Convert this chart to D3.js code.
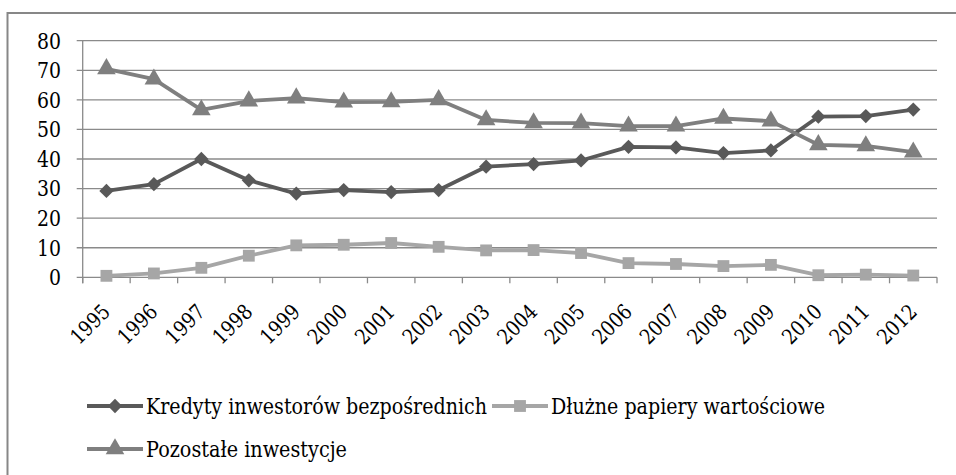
<!DOCTYPE html>
<html>
<head>
<meta charset="utf-8">
<script src="https://cdn.jsdelivr.net/npm/d3@7"></script>
<style>
  html, body { margin: 0; padding: 0; background: #fff; }
</style>
</head>
<body>
<div class="js-container"></div>
<script>
;(function() {
  'use strict';

  var years = ['1995', '1996', '1997', '1998', '1999', '2000', '2001', '2002', '2003',
               '2004', '2005', '2006', '2007', '2008', '2009', '2010', '2011', '2012'];

  var kredyty = [29.2, 31.5, 40.0, 32.8, 28.3, 29.5, 28.8, 29.5, 37.4,
                 38.3, 39.5, 44.1, 43.9, 42.0, 42.9, 54.3, 54.5, 56.7];

  var dluzne = [0.5, 1.3, 3.2, 7.3, 10.8, 11.0, 11.6, 10.3, 9.1,
                9.2, 8.2, 4.8, 4.5, 3.8, 4.2, 0.7, 0.9, 0.6];

  var pozostale = [70.5, 67.0, 56.6, 59.6, 60.6, 59.2, 59.3, 60.0, 53.2,
                   52.2, 52.1, 51.1, 51.1, 53.7, 52.8, 44.8, 44.4, 42.3];

  var yTicks = [0, 10, 20, 30, 40, 50, 60, 70, 80];

  var seriesNames = ['Kredyty inwestorów bezpośrednich', 'Dłużne papiery wartościowe', 'Pozostałe inwestycje'];

  var width = 956;
  var height = 475;

  // only DejaVu Serif renders as a serif here; it is wider than Times,
  // so texts get squeezed to Times-like widths with textLength
  var font = '"DejaVu Serif", serif';

  var plot = { left: 82.7, right: 937, top: 40.7, bottom: 277.3 };

  var series = [
    { name: seriesNames[0], values: kredyty, color: '#595959', marker: 'diamond', len: 341 },
    { name: seriesNames[1], values: dluzne, color: '#a6a6a6', marker: 'square', len: 274 },
    { name: seriesNames[2], values: pozostale, color: '#7f7f7f', marker: 'triangle', len: 201 }
  ];

  var svg = d3.select('.js-container').append('svg')
      .attr('width', width)
      .attr('height', height)
      .attr('font-family', font);

  // outer frame (only the left and top edges are visible)
  svg.append('rect')
      .attr('x', 7.5)
      .attr('y', 13)
      .attr('width', width + 10)
      .attr('height', height + 10)
      .attr('fill', 'none')
      .attr('stroke', '#878787')
      .attr('stroke-width', 2);

  var x = d3.scaleBand()
      .domain(years)
      .range([plot.left, plot.right]);

  var y = d3.scaleLinear()
      .domain([0, 80])
      .range([plot.bottom, plot.top]);

  var gridColor = '#8a8a8a';

  // horizontal gridlines
  svg.append('g')
    .selectAll('line')
    .data(yTicks)
    .enter().append('line')
      .attr('x1', plot.left - 6)
      .attr('x2', plot.right)
      .attr('y1', function(d) { return y(d); })
      .attr('y2', function(d) { return y(d); })
      .attr('stroke', gridColor)
      .attr('stroke-width', 1.3);

  // y axis line
  svg.append('line')
      .attr('x1', plot.left).attr('x2', plot.left)
      .attr('y1', plot.top).attr('y2', plot.bottom + 6)
      .attr('stroke', gridColor)
      .attr('stroke-width', 1.3);

  // x tick marks at category boundaries
  var boundaries = years.map(function(d) { return x(d); }).concat([plot.right]);
  svg.append('g')
    .selectAll('line')
    .data(boundaries)
    .enter().append('line')
      .attr('x1', function(d) { return d; })
      .attr('x2', function(d) { return d; })
      .attr('y1', plot.bottom)
      .attr('y2', plot.bottom + 6)
      .attr('stroke', gridColor)
      .attr('stroke-width', 1.3);

  // y tick labels
  svg.append('g')
    .selectAll('text')
    .data(yTicks)
    .enter().append('text')
      .attr('x', 61)
      .attr('y', function(d) { return y(d); })
      .attr('dy', '0.36em')
      .attr('text-anchor', 'end')
      .attr('font-size', 22)
      .attr('textLength', function(d) { return String(d).length * 12; })
      .attr('lengthAdjust', 'spacingAndGlyphs')
      .text(function(d) { return d; });

  // x tick labels, rotated
  svg.append('g')
    .selectAll('text')
    .data(years)
    .enter().append('text')
      .attr('transform', function(d) {
        var cx = x(d) + x.bandwidth() / 2 + 5;
        return 'translate(' + cx + ',' + 313 + ') rotate(-45)';
      })
      .attr('text-anchor', 'end')
      .attr('font-size', 21)
      .attr('textLength', 46)
      .attr('lengthAdjust', 'spacingAndGlyphs')
      .text(function(d) { return d; });

  var symbolTypes = {
    diamond: { type: d3.symbolDiamond2, size: 130 },
    square: { type: d3.symbolSquare, size: 140 },
    triangle: { type: d3.symbolTriangle, size: 150 }
  };

  function symbolPath(kind) {
    var s = symbolTypes[kind];
    return d3.symbol().type(s.type).size(s.size)();
  }

  // lines and markers
  series.forEach(function(s) {
    var line = d3.line()
        .x(function(d, i) { return x(years[i]) + x.bandwidth() / 2; })
        .y(function(d) { return y(d); });

    svg.append('path')
        .datum(s.values)
        .attr('d', line)
        .attr('fill', 'none')
        .attr('stroke', s.color)
        .attr('stroke-width', 3.8)
        .attr('stroke-linejoin', 'round');

    svg.append('g')
      .selectAll('path')
      .data(s.values)
      .enter().append('path')
        .attr('d', symbolPath(s.marker))
        .attr('transform', function(d, i) {
          return 'translate(' + (x(years[i]) + x.bandwidth() / 2) + ',' + y(d) + ')';
        })
        .attr('fill', s.color);
  });

  // legend: two rows, second item placed after the first one's text
  var legend = svg.append('g');

  function legendItem(s, lx, ly) {
    var g = legend.append('g')
        .attr('transform', 'translate(' + lx + ',' + ly + ')');
    g.append('line')
        .attr('x1', 0).attr('x2', 56)
        .attr('y1', 0).attr('y2', 0)
        .attr('stroke', s.color)
        .attr('stroke-width', 3.8);
    g.append('path')
        .attr('d', symbolPath(s.marker))
        .attr('transform', 'translate(28,0)')
        .attr('fill', s.color);
    g.append('text')
        .attr('x', 59)
        .attr('y', 0)
        .attr('dy', '0.36em')
        .attr('font-size', 22)
        .attr('textLength', s.len)
        .attr('lengthAdjust', 'spacingAndGlyphs')
        .text(s.name);
    return lx + 59 + s.len;
  }

  var end1 = legendItem(series[0], 87, 406);
  legendItem(series[1], end1 + 5, 406);
  legendItem(series[2], 87, 449);

}());
</script>
</body>
</html>
